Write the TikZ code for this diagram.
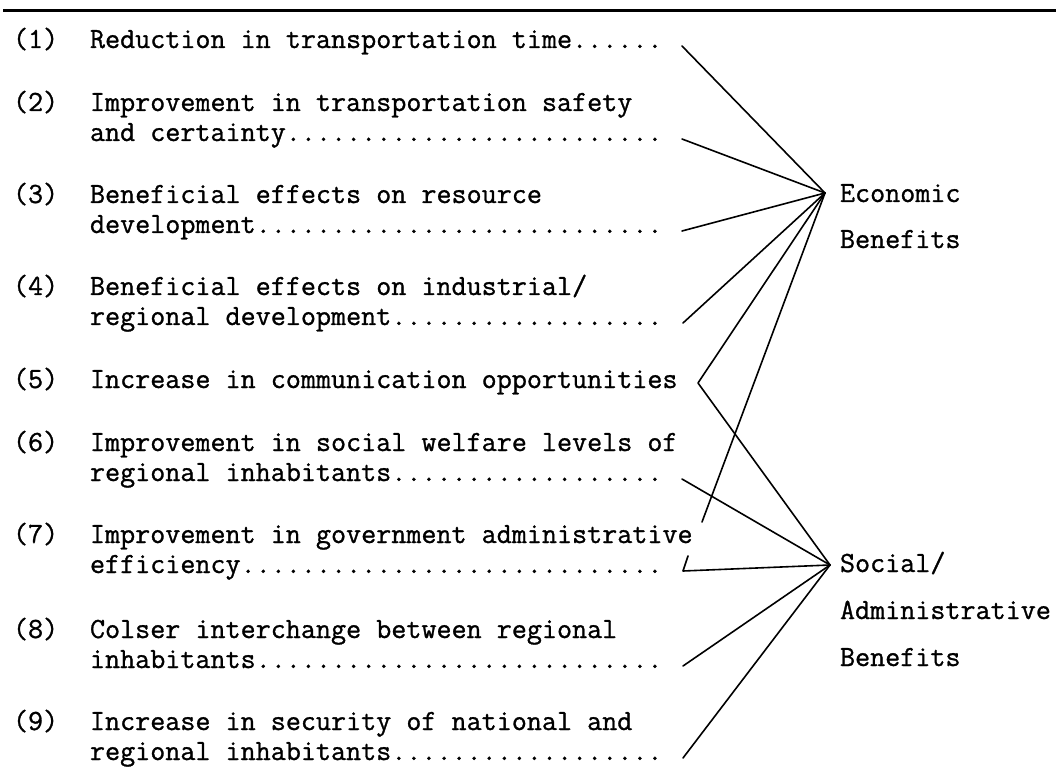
\documentclass[tikz,border=0pt]{standalone}
\usepackage{fontspec}
\newfontfamily\typewriter{Latin Modern Mono}[FakeBold=1]
\begin{document}
\begin{tikzpicture}[x=0.75pt,y=-0.75pt,
  txt/.style={anchor=base west,inner sep=0pt,outer sep=0pt,
    font=\typewriter\fontsize{21.94pt}{26pt}\selectfont},
  link/.style={line width=1.2pt,line join=round,line cap=round}]
\useasboundingbox (0,0) rectangle (1064,784);

% top rule
\draw[line width=2.4pt] (3,10.5) -- (1056,10.5);

% item numbers
\node[txt] (n1) at (13,48)  {(1)};
\node[txt] (n2) at (13,111) {(2)};
\node[txt] (n3) at (13,203) {(3)};
\node[txt] (n4) at (13,295) {(4)};
\node[txt] (n5) at (13,388) {(5)};
\node[txt] (n6) at (13,451) {(6)};
\node[txt] (n7) at (13,543) {(7)};
\node[txt] (n8) at (13,638) {(8)};
\node[txt] (n9) at (13,730) {(9)};

% item texts
\node[txt] (a1) at (90,48)  {Reduction in transportation time......};
\node[txt] (a2) at (90,111) {Improvement in transportation safety};
\node[txt] (b2) at (90,141) {and certainty.........................};
\node[txt] (a3) at (90,203) {Beneficial effects on resource};
\node[txt] (b3) at (90,233) {development...........................};
\node[txt] (a4) at (90,295) {Beneficial effects on industrial/};
\node[txt] (b4) at (90,325) {regional development..................};
\node[txt] (a5) at (90,388) {Increase in communication opportunities};
\node[txt] (a6) at (90,451) {Improvement in social welfare levels of};
\node[txt] (b6) at (90,481) {regional inhabitants..................};
\node[txt] (a7) at (90,543) {Improvement in government administrative};
\node[txt] (b7) at (90,573) {efficiency............................};
\node[txt] (a8) at (90,638) {Colser interchange between regional};
\node[txt] (b8) at (90,668) {inhabitants...........................};
\node[txt] (a9) at (90,730) {Increase in security of national and};
\node[txt] (b9) at (90,760) {regional inhabitants..................};

% benefit groups
\node[txt] (eco1) at (840,202) {Economic};
\node[txt] (eco2) at (840,248) {Benefits};
\node[txt] (soc1) at (840,572) {Social/};
\node[txt] (soc2) at (840,619) {Administrative};
\node[txt] (soc3) at (840,666) {Benefits};

% convergence points
\coordinate (E) at (825,193);
\coordinate (S) at (830,565);

% ends of the dotted leaders
\coordinate (d1) at (682,46);
\coordinate (d2) at (682,139);
\coordinate (d3) at (682,231);
\coordinate (d4) at (683,323);
\coordinate (v5) at (698,383);
\coordinate (d6) at (682,479);
\coordinate (t7) at (702,522);
\coordinate (k7) at (688,556);
\coordinate (d7) at (683,571);
\coordinate (d8) at (683,666);
\coordinate (d9) at (683,758);

% connectors to Economic Benefits
\draw[link] (d1) -- (E);
\draw[link] (d2) -- (E);
\draw[link] (d3) -- (E);
\draw[link] (d4) -- (E);
\draw[link] (E) -- (v5) -- (S);
\draw[link] (E) -- (t7);

% connectors to Social/Administrative Benefits
\draw[link] (d6) -- (S);
\draw[link] (k7) -- (d7) -- (S);
\draw[link] (d8) -- (S);
\draw[link] (d9) -- (S);
\end{tikzpicture}
\end{document}
